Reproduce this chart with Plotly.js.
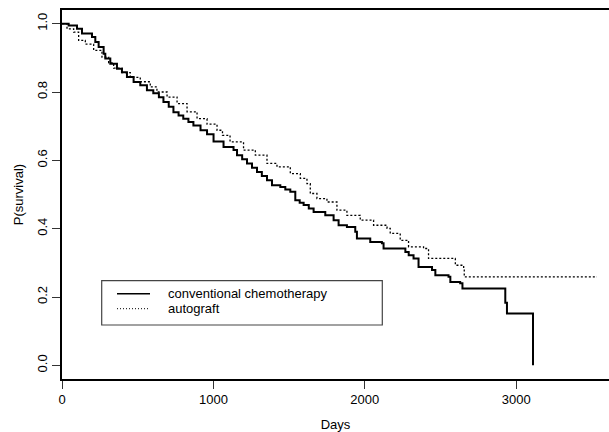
<!DOCTYPE html>
<html>
<head>
<meta charset="utf-8">
<script src="https://cdn.plot.ly/plotly-3.0.1.min.js"></script>
<style>html,body{margin:0;padding:0;background:#fff;}#chart{width:609px;height:432px;}</style>
</head>
<body>
<div id="chart"></div>
<script>
// Kaplan-Meier step points (day at which survival drops, survival after drop)
const convDays = [0, 44, 99, 132, 198, 220, 242, 275, 286, 319, 363, 396, 429, 473, 517, 561, 603, 640, 670, 705, 736, 770, 801, 835, 868, 915, 958, 1001, 1067, 1133, 1156, 1190, 1222, 1255, 1288, 1320, 1354, 1387, 1442, 1475, 1508, 1541, 1570, 1596, 1630, 1662, 1739, 1794, 1827, 1882, 1937, 1948, 2036, 2113, 2124, 2268, 2290, 2322, 2355, 2444, 2466, 2553, 2565, 2630, 2645, 2928, 2939, 3111];
const convSurv = [1.0, 0.995, 0.985, 0.971, 0.961, 0.946, 0.932, 0.912, 0.898, 0.883, 0.868, 0.858, 0.844, 0.829, 0.820, 0.805, 0.796, 0.785, 0.771, 0.757, 0.741, 0.731, 0.722, 0.712, 0.702, 0.688, 0.676, 0.655, 0.639, 0.630, 0.615, 0.603, 0.591, 0.578, 0.566, 0.554, 0.542, 0.527, 0.522, 0.515, 0.508, 0.483, 0.476, 0.469, 0.459, 0.449, 0.439, 0.425, 0.410, 0.405, 0.391, 0.371, 0.361, 0.357, 0.342, 0.332, 0.322, 0.313, 0.288, 0.279, 0.264, 0.259, 0.244, 0.240, 0.225, 0.183, 0.152, 0.0];

const autoDays = [0, 33, 77, 110, 154, 209, 264, 308, 341, 396, 451, 517, 583, 627, 694, 760, 826, 892, 958, 1024, 1060, 1110, 1199, 1277, 1354, 1420, 1508, 1574, 1618, 1640, 1684, 1750, 1816, 1882, 1970, 2058, 2147, 2168, 2234, 2289, 2388, 2421, 2598, 2653, 2657, 3534];
const autoSurv = [1.0, 0.985, 0.975, 0.951, 0.940, 0.922, 0.902, 0.885, 0.870, 0.857, 0.843, 0.830, 0.815, 0.800, 0.785, 0.766, 0.742, 0.722, 0.706, 0.688, 0.673, 0.654, 0.630, 0.615, 0.591, 0.581, 0.561, 0.547, 0.532, 0.503, 0.488, 0.478, 0.454, 0.439, 0.425, 0.410, 0.401, 0.386, 0.366, 0.347, 0.342, 0.313, 0.293, 0.284, 0.259, 0.259];

const seriesNames = ["conventional chemotherapy", "autograft"];
const xTicks = [0, 1000, 2000, 3000];
const yTicks = [0.0, 0.2, 0.4, 0.6, 0.8, 1.0];

const FONT = "Liberation Sans, Arial, Helvetica, sans-serif";
const W = 609, H = 432, ML = 62, MR = 0, MT = 10, MB = 53;
const PW = W - ML - MR, PH = H - MT - MB;
const px = v => (v - ML) / PW;
const py = v => (H - MB - v) / PH;

const traces = [
  {x: convDays, y: convSurv, name: seriesNames[0], mode: "lines",
   line: {shape: "hv", color: "#000", width: 2}, showlegend: false, hoverinfo: "x+y"},
  {x: autoDays, y: autoSurv, name: seriesNames[1], mode: "lines",
   line: {shape: "hv", color: "#000", width: 1.3, dash: "2px,2px"}, showlegend: false, hoverinfo: "x+y"}
];

const layout = {
  width: W, height: H,
  margin: {l: ML, r: MR, t: MT, b: MB, pad: 0},
  paper_bgcolor: "#fff", plot_bgcolor: "#fff",
  font: {family: FONT, size: 13, color: "#000"},
  xaxis: {
    range: [0, 3613], tickvals: xTicks, ticktext: xTicks.map(String),
    showgrid: false, zeroline: false, showline: true, mirror: true,
    linecolor: "#000", linewidth: 1.6, ticks: "outside", ticklen: 8, tickwidth: 1, tickcolor: "#333",
    tickfont: {family: FONT, size: 13, color: "#000"},
    title: {text: "Days", font: {family: FONT, size: 13, color: "#000"}, standoff: 13},
    automargin: false
  },
  yaxis: {
    range: [-0.04, 1.04], tickvals: yTicks, ticktext: yTicks.map(v => v.toFixed(1)),
    showgrid: false, zeroline: false, showline: true, mirror: false,
    linecolor: "#000", linewidth: 1.6, ticks: "outside", ticklen: 8, tickwidth: 1, tickcolor: "#333",
    tickangle: -90,
    tickfont: {family: FONT, size: 13, color: "#000"},
    title: {text: "P(survival)", font: {family: FONT, size: 13, color: "#000"}, standoff: 8},
    automargin: false
  },
  shapes: [
    {type: "rect", xref: "paper", yref: "paper", x0: px(101.7), x1: px(382.3), y0: py(325), y1: py(280.7),
     line: {color: "#444", width: 1.2}, fillcolor: "rgba(0,0,0,0)"},
    {type: "line", xref: "paper", yref: "paper", x0: px(117), x1: px(150), y0: py(293.7), y1: py(293.7),
     line: {color: "#000", width: 1.6}},
    {type: "line", xref: "paper", yref: "paper", x0: px(117), x1: px(150), y0: py(308.7), y1: py(308.7),
     line: {color: "#000", width: 1, dash: "1px,2px"}}
  ],
  annotations: [
    {xref: "paper", yref: "paper", x: px(165.7), y: py(293.7), xanchor: "left", yanchor: "middle",
     text: seriesNames[0], showarrow: false, font: {family: FONT, size: 13, color: "#000"}},
    {xref: "paper", yref: "paper", x: px(165.7), y: py(308.7), xanchor: "left", yanchor: "middle",
     text: seriesNames[1], showarrow: false, font: {family: FONT, size: 13, color: "#000"}}
  ]
};

Plotly.newPlot("chart", traces, layout, {displayModeBar: false, staticPlot: true});
</script>
</body>
</html>
